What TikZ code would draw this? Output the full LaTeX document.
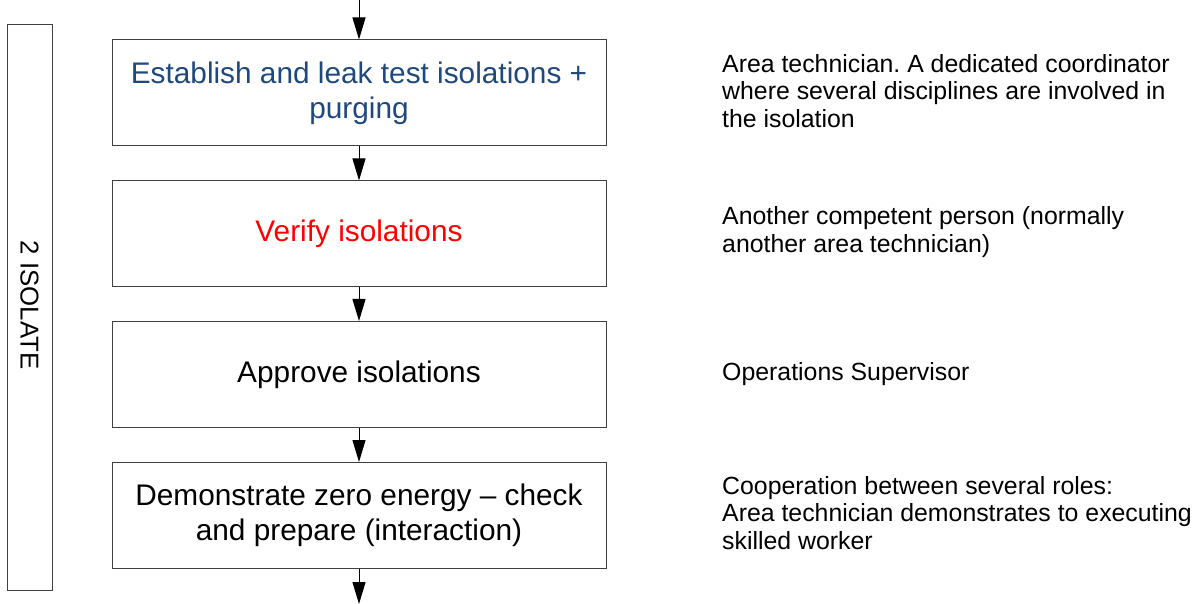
\documentclass[tikz,border=0pt]{standalone}
\usepackage{fontspec}
\setmainfont{Liberation Sans}
\usetikzlibrary{arrows.meta}
\definecolor{boxblue}{HTML}{1F497D}
\definecolor{edge}{HTML}{404040}
\frenchspacing
\begin{document}
\begin{tikzpicture}[x=1pt,y=-1pt,
  stepbox/.style={draw=edge,line width=1pt,minimum width=494pt,minimum height=106pt,align=center,font=\fontsize{29.8}{35}\selectfont,inner sep=0pt},
  desc/.style={anchor=west,align=left,font=\fontsize{24.85}{27.5}\selectfont,inner sep=0pt},
  flow/.style={line width=1pt,-{Triangle[length=22pt,width=13pt]}}]
\useasboundingbox (0,0) rectangle (1195,604);
\node[draw=edge,line width=1pt,minimum width=45pt,minimum height=565pt,inner sep=0pt] (bar) at (29.5,307.5) {};
\node[rotate=-90,font=\fontsize{25.8}{30}\selectfont] (barlabel) at (29.5,305) {2 ISOLATE};
\node[stepbox,text=boxblue] (b1) at (359,93) {Establish and leak test isolations +\\purging};
\node[stepbox,text=red] (b2) at (359,234) {Verify isolations};
\node[stepbox] (b3) at (359,374.5) {Approve isolations};
\node[stepbox] (b4) at (359,515.5) {Demonstrate zero energy -- check\\and prepare (interaction)};
\coordinate (top) at (359,0);
\coordinate (bottom) at (359,604);
\draw[flow] (top) -- (b1.north);
\draw[flow] (b1.south) -- (b2.north);
\draw[flow] (b2.south) -- (b3.north);
\draw[flow] (b3.south) -- (b4.north);
\draw[flow] (b4.south) -- (bottom);
\node[desc] (d1) at (722,91) {Area technician. A dedicated coordinator\\where several disciplines are involved in\\the isolation};
\node[desc] (d2) at (722,232) {Another competent person (normally\\another area technician)};
\node[desc] (d3) at (722,374.5) {Operations Supervisor};
\node[desc] (d4) at (722,513) {Cooperation between several roles:\\Area technician demonstrates to executing\\skilled worker};
\end{tikzpicture}
\end{document}
